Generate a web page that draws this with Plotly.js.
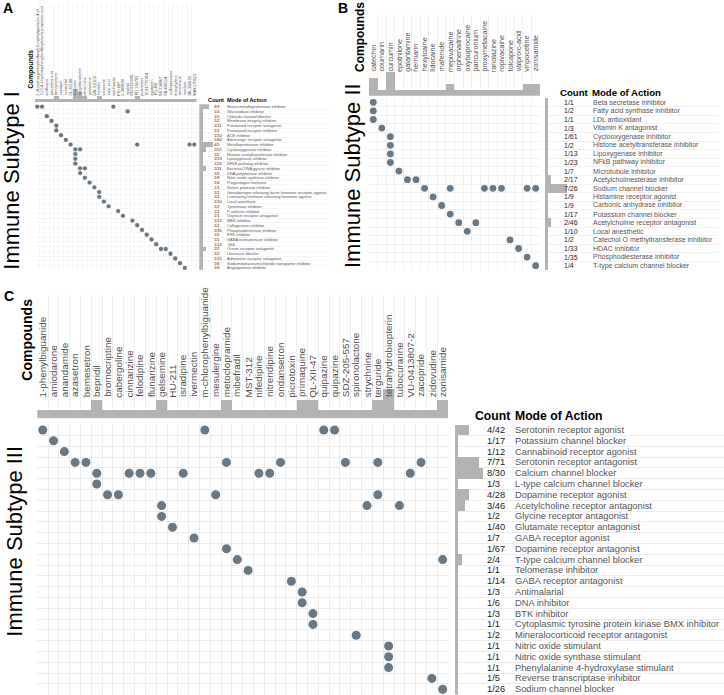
<!DOCTYPE html>
<html>
<head>
<meta charset="utf-8">
<script src="https://cdn.plot.ly/plotly-3.0.1.min.js"></script>
<style>
html, body { margin: 0; padding: 0; background: #fff; }
#chart { width: 724px; height: 695px; }
</style>
</head>
<body>
<div id="chart"></div>
<script>
// Immune Subtype I
const compoundsA = ['2-(4-methoxyphenylsulfonyl)-6-methylpyrimidin-4-ol', '2-(3,4-dihydroxyphenyl)sulfonylamino-propanoic-acid',
  'acriflavine', 'benzethonium', 'benzydamine', 'captopril', 'carvedilol', 'CL-82198', 'curcumin', 'epigallocatechin',
  'ethacridine', 'gestodene', 'GW-311616', 'histrelin', 'ketocaine', 'kojic-acid', 'marimastat', 'PSI-697', 'L-368899',
  'miglitol', 'PD-0325901', 'PD-166793', 'piclamilast', 'SCH-772984', 'vigabatrin', 'PQ-401', 'SB-334867', 'SB-408124',
  'sulfinpyrazone', 'theophylline', 'torasemide', 'tranilast', 'UK-356618', 'WAY-170523'];
const modesA = ['Matrix metalloproteinase inhibitor', 'Glucosidase inhibitor', 'Chloride channel blocker',
  'Membrane integrity inhibitor', 'Prostanoid receptor antagonist', 'Prostanoid receptor inhibitor', 'ACE inhibitor',
  'Adrenergic receptor antagonist', 'Metalloproteinase inhibitor', 'Cyclooxygenase inhibitor',
  'Histone acetyltransferase inhibitor', 'Lipoxygenase inhibitor', 'NFkB pathway inhibitor',
  'Bacterial DNA gyrase inhibitor', 'DNA polymerase inhibitor', 'Nitric oxide synthase inhibitor', 'Progestogen hormone',
  'Serine protease inhibitor', 'Gonadotropin releasing factor hormone receptor agonist',
  'Luteinizing hormone releasing hormone agonist', 'Local anesthetic', 'Tyrosinase inhibitor', 'P-selectin inhibitor',
  'Oxytocin receptor antagonist', 'MEK inhibitor', 'Collagenase inhibitor', 'Phosphodiesterase inhibitor',
  'ERK inhibitor', 'GABA transaminase inhibitor', '-666', 'Orexin receptor antagonist', 'Uricosuric blocker',
  'Adenosine receptor antagonist', 'Sodium/potassium/chloride transporter inhibitor', 'Angiogenesis inhibitor'];
const totalsA = [3, 4, 5, 2, 11, 1, 10, 60, 5, 51, 2, 13, 20, 11, 5, 8, 6, 1, 1, 1, 10, 2, 1, 1, 12, 1, 35, 5, 1, 14, 2, 2, 15, 6, 6];
const hitsA = [[0, 1, 16], [19], [2], [3], [4], [4], [5], [6], [7, 21, 32, 33], [8, 9], [8], [8], [8], [9, 10], [9], [10],
  [11], [12], [13], [13], [14], [15], [17], [18], [20], [21], [22], [23], [24], [25], [26, 27], [28], [29], [30], [31]];

// Immune Subtype II
const compoundsB = ['catechin', 'coumarin', 'curcumin', 'epothilone', 'galantamine', 'herniarin', 'hexylcaine', 'lidocaine',
  'mafenide', 'mepivacaine', 'orphenadrine', 'oxybuprocaine', 'pancuronium', 'proxymetacaine', 'ranolazine',
  'ropivacaine', 'tolcapone', 'valproic-acid', 'vinpocetine', 'zonisamide'];
const modesB = ['Beta secretase inhibitor', 'Fatty acid synthase inhibitor', 'LDL antioxidant', 'Vitamin K antagonist',
  'Cyclooxygenase inhibitor', 'Histone acetyltransferase inhibitor', 'Lipoxygenase inhibitor', 'NFkB pathway inhibitor',
  'Microtubule inhibitor', 'Acetylcholinesterase inhibitor', 'Sodium channel blocker', 'Histamine receptor agonist',
  'Carbonic anhydrase inhibitor', 'Potassium channel blocker', 'Acetylcholine receptor antagonist', 'Local anesthetic',
  'Catechol O methyltransferase inhibitor', 'HDAC inhibitor', 'Phosphodiesterase inhibitor', 'T-type calcium channel blocker'];
const totalsB = [1, 2, 1, 3, 61, 2, 13, 23, 7, 17, 26, 9, 9, 17, 46, 10, 2, 33, 35, 4];
const hitsB = [[0], [0], [0], [1], [2], [2], [2], [2], [3], [4, 5], [6, 9, 13, 14, 15, 18, 19], [7], [8], [9], [10, 12],
  [11], [16], [17], [18], [19]];

// Immune Subtype III
const compoundsC = ['1-phenylbiguanide', 'amiodarone', 'anandamide', 'azasetron', 'bemesetron', 'bepridil', 'bromocriptine',
  'cabergoline', 'cinnarizine', 'felodipine', 'flunarizine', 'gelsemine', 'HU-211', 'isradipine', 'ivermectin',
  'm-chlorophenylbiguanide', 'mesulergine', 'metoclopramide', 'mibefradil', 'MST-312', 'nifedipine', 'nitrendipine',
  'ondansetron', 'picrotoxin', 'primaquine', 'QL-XII-47', 'quipazine', 'quipazine', 'SDZ-205-557', 'spironolactone',
  'strychnine', 'terguride', 'tetrahydrobiopterin', 'tubocurarine', 'VU-0413807-2', 'zacopride', 'zidovudine', 'zonisamide'];
const modesC = ['Serotonin receptor agonist', 'Potassium channel blocker', 'Cannabinoid receptor agonist',
  'Serotonin receptor antagonist', 'Calcium channel blocker', 'L-type calcium channel blocker', 'Dopamine receptor agonist',
  'Acetylcholine receptor antagonist', 'Glycine receptor antagonist', 'Glutamate receptor antagonist',
  'GABA receptor agonist', 'Dopamine receptor antagonist', 'T-type calcium channel blocker', 'Telomerase inhibitor',
  'GABA receptor antagonist', 'Antimalarial', 'DNA inhibitor', 'BTK inhibitor',
  'Cytoplasmic tyrosine protein kinase BMX inhibitor', 'Mineralocorticoid receptor antagonist', 'Nitric oxide stimulant',
  'Nitric oxide synthase stimulant', 'Phenylalanine 4-hydroxylase stimulant', 'Reverse transcriptase inhibitor',
  'Sodium channel blocker'];
const totalsC = [42, 17, 12, 71, 30, 3, 28, 46, 2, 40, 7, 67, 4, 1, 14, 3, 6, 3, 1, 2, 1, 1, 1, 5, 26];
const hitsC = [[0, 15, 26, 27], [1], [2], [3, 4, 17, 22, 28, 31, 35], [5, 8, 9, 10, 13, 20, 21, 34], [5], [6, 7, 16, 31],
  [11, 30, 33], [11], [12], [14], [17], [18, 37], [19], [23], [24], [24], [25], [25], [29], [32], [32], [32], [36], [37]];

const W = 724, H = 695;
const FONT = 'Liberation Sans, Arial, Helvetica, sans-serif';
const DOT = '#687884';
const BAR = '#b3b3b3';
const GRID = '#e8e8e8';

function px(x) { return x / W; }
function py(y) { return Math.max(0, Math.min(1, 1 - y / H)); }
function ax(i) { return i === 1 ? '' : String(i); }
function edges(n) { return Array.from({length: n + 1}, (_, i) => i - 0.5); }

let traces = [];
let layout = {
  width: W, height: H,
  margin: {l: 0, r: 0, t: 0, b: 0},
  paper_bgcolor: '#fff', plot_bgcolor: '#fff',
  showlegend: false, bargap: 0,
  font: {family: FONT},
  annotations: []
};

function note(text, x, y, size, extra) {
  return Object.assign({
    text: text, x: x, y: y, xref: 'paper', yref: 'paper',
    showarrow: false, borderpad: 0, xanchor: 'left', yanchor: 'middle',
    font: {family: FONT, size: size, color: '#000'}
  }, extra || {});
}

function addPanel(n, title, compounds, modes, totals, hits, g) {
  let nC = compounds.length, nR = modes.length;
  let xRight = g.x0 + nC * g.dx, yBottom = g.y0 + nR * g.dy;

  let rows = [], cols = [];
  hits.forEach((h, r) => h.forEach(c => { rows.push(r); cols.push(c); }));
  let perCompound = compounds.map((_, i) => hits.filter(h => h.includes(i)).length);

  traces.push({
    type: 'scatter', mode: 'markers', x: cols, y: rows,
    xaxis: 'x' + ax(n), yaxis: 'y' + ax(n),
    marker: {size: g.dot, color: DOT, line: {width: 0}}, hoverinfo: 'skip'
  });
  traces.push({
    type: 'bar', x: compounds.map((_, i) => i), y: perCompound, width: 1,
    xaxis: 'x' + ax(n + 1), yaxis: 'y' + ax(n + 1),
    marker: {color: BAR, line: {width: 0}}, hoverinfo: 'skip'
  });
  traces.push({
    type: 'bar', orientation: 'h', y: modes.map((_, i) => i), x: hits.map(h => h.length), width: 1,
    xaxis: 'x' + ax(n + 2), yaxis: 'y' + ax(n + 2),
    marker: {color: BAR, line: {width: 0}}, hoverinfo: 'skip'
  });

  let plain = {showticklabels: false, ticks: '', zeroline: false, showline: false, fixedrange: true};
  let xGrid = Object.assign({}, plain, {
    domain: [px(g.x0), px(xRight)], range: [-0.5, nC - 0.5],
    tickvals: edges(nC), showgrid: true, gridcolor: GRID, gridwidth: g.grid
  });
  let yGrid = Object.assign({}, plain, {
    domain: [py(yBottom), py(g.y0)], range: [nR - 0.5, -0.5],
    tickvals: edges(nR), showgrid: true, gridcolor: GRID, gridwidth: g.grid
  });

  layout['xaxis' + ax(n)] = Object.assign({}, xGrid, {anchor: 'y' + ax(n)});
  layout['yaxis' + ax(n)] = Object.assign({}, yGrid, {anchor: 'x' + ax(n)});
  layout['xaxis' + ax(n + 1)] = Object.assign({}, xGrid, {anchor: 'y' + ax(n + 1)});
  layout['yaxis' + ax(n + 1)] = Object.assign({}, plain, {
    domain: [py(g.barBase), py(g.barTop)],
    range: [g.barMin, g.barMin + (g.barBase - g.barTop) / g.barUnit],
    showgrid: false, anchor: 'x' + ax(n + 1)
  });
  layout['xaxis' + ax(n + 2)] = Object.assign({}, plain, {
    domain: [px(g.rBase), px(g.rEnd)], range: [0, (g.rEnd - g.rBase) / g.rUnit],
    showgrid: false, anchor: 'y' + ax(n + 2)
  });
  layout['yaxis' + ax(n + 2)] = Object.assign({}, yGrid, {anchor: 'x' + ax(n + 2)});

  let A = layout.annotations;
  compounds.forEach((c, i) => A.push(note(c, i, py(g.labelBottom), g.labelSize, {
    xref: 'x' + ax(n), xanchor: 'center', yanchor: 'bottom', textangle: -90,
    font: {family: FONT, size: g.labelSize, color: '#4d4d4d'}
  })));
  hits.forEach((h, r) => {
    A.push(note(h.length + '/' + totals[r], px(g.countX), r, g.textSize, {
      yref: 'y' + ax(n), font: {family: FONT, size: g.textSize, color: '#222'}
    }));
    A.push(note(modes[r], px(g.modeX), r, g.textSize, {
      yref: 'y' + ax(n), font: {family: FONT, size: g.textSize, color: '#555'}
    }));
  });
  A.push(note('<b>Count</b>', px(g.headCountX), py(g.headY), g.headSize));
  A.push(note('<b>Mode of Action</b>', px(g.headModeX), py(g.headY), g.headSize));
  A.push(note('<b>Compounds</b>', px(g.cmpX), py(g.cmpY), g.cmpSize, {xanchor: 'center', textangle: -90}));
  A.push(note(title, px(g.bigX), py(g.bigY), 22, {xanchor: 'center', textangle: -90}));
  A.push(note('<b>' + g.letter + '</b>', px(g.letterX), py(g.letterY), 14));
}

addPanel(1, 'Immune Subtype I', compoundsA, modesA, totalsA, hitsA, {
  x0: 34.9, dx: 4.758, y0: 104.3, dy: 4.744, dot: 4.3, grid: 0.4,
  barBase: 102.3, barTop: 3.3, barUnit: 3.33, barMin: 0,
  rBase: 199.3, rEnd: 330, rUnit: 3.35,
  labelBottom: 96.5, labelSize: 3.8,
  countX: 212.7, modeX: 226, textSize: 4,
  headY: 100, headCountX: 207.3, headModeX: 226, headSize: 5.5,
  cmpX: 30.5, cmpY: 69, cmpSize: 6.6,
  bigX: 11.7, bigY: 180, letter: 'A', letterX: 1.5, letterY: 8.5
});

addPanel(4, 'Immune Subtype II', compoundsB, modesB, totalsB, hitsB, {
  x0: 369.0, dx: 8.547, y0: 98, dy: 8.6, dot: 6.8, grid: 0.6,
  barBase: 95.7, barTop: 15, barUnit: 6, barMin: 0,
  rBase: 544.5, rEnd: 718, rUnit: 3.26,
  labelBottom: 72.7, labelSize: 7.2,
  countX: 563.3, modeX: 591.7, textSize: 7,
  headY: 92.3, headCountX: 558.5, headModeX: 590.5, headSize: 9.6,
  cmpX: 360, cmpY: 37, cmpSize: 12,
  bigX: 352, bigY: 176, letter: 'B', letterX: 337, letterY: 8.5
});

addPanel(7, 'Immune Subtype III', compoundsC, modesC, totalsC, hitsC, {
  x0: 37.3, dx: 10.81, y0: 424.6, dy: 10.8, dot: 9, grid: 0.8,
  barBase: 418.3, barTop: 295, barUnit: 10.36, barMin: 0.2,
  rBase: 454.6, rEnd: 724, rUnit: 3.53,
  labelBottom: 398.3, labelSize: 9.9,
  countX: 486, modeX: 514.3, textSize: 9.3,
  headY: 415.7, headCountX: 474, headModeX: 514, headSize: 12.2,
  cmpX: 26.7, cmpY: 340, cmpSize: 14,
  bigX: 15, bigY: 541.7, letter: 'C', letterX: 3.3, letterY: 296
});

Plotly.newPlot('chart', traces, layout, {displayModeBar: false, staticPlot: true});
</script>
</body>
</html>
